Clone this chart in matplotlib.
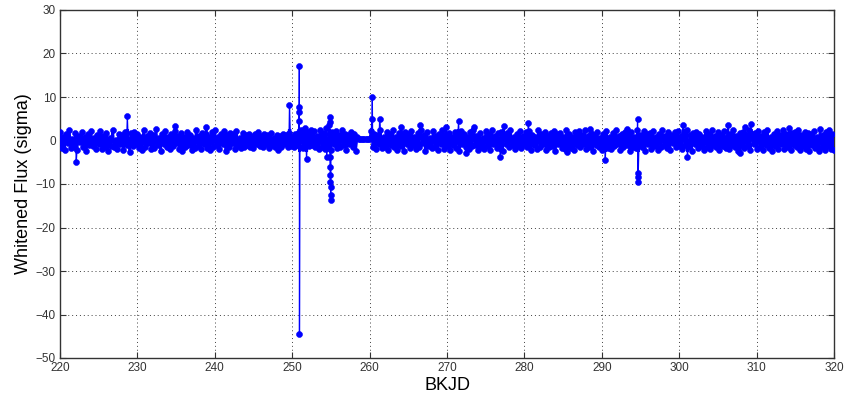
import matplotlib
matplotlib.use('Agg')
import matplotlib.pyplot as plt
from matplotlib.patches import Rectangle
import numpy as np

plt.rcParams['font.family'] = ['Liberation Sans', 'DejaVu Sans']

# whitened flux, cadence 0.2 d, before the gap (starts at BKJD 220.0)
flux_a = [
    1.9, -1.7, 0.8, -2.2, 1.5, -0.6, 2.4, -1.8, 0.3, -1.4, 1.7, -2.1, 1.0, -0.4, 2.0, -1.6, 0.9, -2.4, 1.4, -1.1, 2.2, -1.3, 0.5, -1.9,
    1.2, -0.8, 2.1, -1.9, 1.1, -1.6, 1.8, -2.3, 0.6, -1.2, 2.5, -1.5, 0.2, -2.0, 1.6, -0.7, 1.3, -2.2, 1.9, -1.0, 0.4, -2.6, 1.7, -1.3,
    2.0, -0.9, 1.4, -1.8, 0.7, -2.1, 2.3, -1.4, 1.0, -0.5, 1.8, -2.0, 1.2, -1.7, 2.6, -1.1, 0.6, -2.3, 1.5, -0.8, 2.1, -1.6, 0.9, -2.0,
    1.6, -1.2, 2.2, -0.6, 1.1, -1.9, 1.7, -2.4, 0.8, -1.5, 2.0, -1.0, 1.3, -2.2, 0.5, -1.7, 2.4, -1.3, 1.0, -2.0, 1.8, -0.7, 1.5, -1.8,
    0.9, -2.1, 1.9, -1.4, 2.3, -1.1, 0.7, -1.9, 1.6, -0.9, 2.2, -2.3, 1.2, -1.5, 1.8, -0.6, 1.4, -2.0, 2.1, -1.2, 0.6, -1.8, 1.7, -1.6,
    1.3, -1.0, 1.6, -1.5, 0.8, -1.7, 1.4, -0.9, 1.9, -1.3, 1.0, -1.6, 1.5, -0.7, 1.2, -1.8, 1.7, -1.1, 0.6, -1.5, 1.3, -2.2, 1.1, -1.4,
    1.6, -0.8, 1.2, -1.6, 1.8, -1.2, 0.9, -1.5, 1.4, -1.0, 1.7, -1.4, 2.4, -1.7, 2.8, -0.9, 1.9, -1.3, 2.3, -1.1, 2.2, -1.6, 1.0, -1.9,
    2.4, -1.5, 1.7, -2.0, 2.8, -1.2, 1.5, -2.2, 1.9, -0.9, 2.1, -1.8, 1.3, -1.4, 2.3, -1.1, 1.6, -2.1, 1.2, -0.8, 2.0, -1.6, 1.4, -2.3,
    0.8,
]

# data gap, flat at ~0
flux_gap = [0.3, 0.3, 0.3, 0.3, 0.3, 0.3, 0.3, 0.3]

# after the gap (starts at BKJD 260.2)
flux_b = [
    2.1, -1.4, 1.6, -2.0, 1.2, -0.7, 2.3, -1.8, 0.9, -1.5, 1.9, -2.2, 1.4, -1.0, 2.5, -1.6, 0.7, -2.1, 1.8, -1.2, 1.1, -2.4, 2.0, -0.9, 1.5,
    -1.7, 2.2, -1.1, 0.8, -2.0, 1.7, -1.5, 2.4, -0.6, 1.3, -2.3, 1.9, -1.2, 0.6, -1.8, 2.1, -1.4, 1.0, -2.1, 1.6, -0.8, 2.3, -1.9, 1.2, -1.3,
    1.8, -2.2, 0.9, -1.1, 2.0, -1.7, 1.4, -2.5, 2.2, -0.9, 1.5, -1.6, 0.8, -2.0, 1.9, -1.3, 2.4, -1.0, 1.1, -2.2, 1.7, -1.5, 0.6, -1.9, 2.1,
    -1.2, 1.4, -2.1, 2.3, -0.8, 1.0, -1.8, 1.7, -1.4, 2.0, -2.3, 1.2, -0.7, 1.8, -1.6, 2.5, -1.1, 0.9, -2.0, 1.5, -1.3, 2.2, -1.8, 1.1, -0.9,
    1.9, -1.6, 2.1, -2.2, 1.3, -1.0, 0.7, -1.9, 2.4, -1.4, 1.6, -0.8, 2.0, -2.1, 1.0, -1.5, 1.8, -1.2, 2.2, -2.4, 1.4, -0.9, 1.7, -1.7, 0.8,
    -2.0, 2.3, -1.3, 1.5, -1.8, 0.9, -2.2, 1.9, -1.1, 2.1, -1.6, 1.2, -0.7, 2.4, -1.9, 1.0, -1.4, 1.7, -2.3, 1.3, -1.0, 2.0, -1.5, 0.6, -2.1,
    1.6, -1.2, 2.2, -1.7, 0.9, -2.0, 1.8, -1.3, 2.5, -0.8, 1.1, -2.2, 1.5, -1.6, 2.0, -1.0, 1.3, -2.4, 1.9, -1.4, 0.7, -1.8, 2.3, -1.1, 1.2,
    -1.5, 2.1, -2.3, 1.4, -0.9, 1.7, -1.9, 2.2, -1.2, 0.8, -2.1, 1.6, -1.4, 2.4, -1.0, 1.1, -1.7, 2.0, -2.2, 1.3, -0.6, 1.9, -1.6, 2.2, -1.3,
    1.0, -2.0, 1.8, -1.1, 2.3, -1.5, 1.2, -2.3, 1.7, -0.7, 2.0, -1.8, 1.4, -1.2, 0.9, -2.1, 2.2, -1.4, 1.5, -1.9, 2.4, -1.0, 1.1, -1.6, 1.9,
    -2.2, 1.3, -1.3, 2.1, -1.8, 0.8, -2.0, 1.6, -1.1, 2.3, -1.5, 1.0, -2.4, 1.8, -0.9, 2.0, -1.7, 1.2, -1.3, 2.5, -2.1, 1.4, -0.8, 1.7, -1.9,
    2.2, -1.4, 1.1, -2.1, 1.9, -1.0, 2.4, -1.7, 0.9, -2.3, 1.6, -1.2, 2.1, -1.9, 1.3, -0.8, 2.3, -2.0, 1.5, -1.5, 1.0, -2.2, 1.8, -1.1, 2.0,
    -1.6, 2.5, -2.2, 1.2, -1.3, 2.0, -1.9, 1.7, -2.4, 1.4, -1.0, 2.2, -1.8, 0.9, -2.3, 2.6, -1.5, 1.3, -2.1, 1.9, -1.2, 2.3, -2.0, 1.6, -2.2,
]

# outliers
spike_t = [222.1, 228.7, 234.9, 238.9, 249.65, 250.86, 250.88, 250.90, 250.92, 250.94, 251.85,
           254.45, 254.81, 254.83, 254.85, 254.87, 254.89, 254.91, 254.93, 254.95, 254.97, 254.99,
           260.32, 260.35, 261.3, 264.05, 266.5, 269.85, 271.5, 272.5, 273.45, 276.9, 277.3, 280.5,
           285.5, 288.5, 290.45, 293.3, 294.62, 294.64, 294.66, 294.68, 300.5, 301.05, 306.3,
           307.85, 308.5, 309.25, 314.25]
spike_f = [-4.9, 5.6, 3.3, 3.2, 8.1, 4.5, 6.6, 7.8, 17.1, -44.5, -4.2,
           -3.7, 3.6, 4.3, 5.3, -3.7, -6.2, -7.9, -9.5, -10.8, -12.5, -13.7,
           4.9, 9.9, 4.9, 3.2, 3.6, 3.2, 4.4, -2.8, 3.2, -3.7, 3.4, 4.1,
           -2.7, 2.7, -4.5, 2.6, 4.9, -7.4, -8.5, -9.5, 3.6, -3.7, 3.6,
           -2.8, 3.2, 3.7, 2.9]

cadence = 0.2
t_a = 220.0 + cadence * np.arange(len(flux_a))
t_gap = t_a[-1] + cadence * np.arange(1, len(flux_gap) + 1)
t_b = 260.2 + cadence * np.arange(len(flux_b))

t = np.concatenate([t_a, t_gap, t_b, spike_t])
f = np.concatenate([flux_a, flux_gap, flux_b, spike_f])
order = np.argsort(t, kind='stable')
t = t[order]
f = f[order]

fig = plt.figure(figsize=(8.49, 4.07), dpi=100)
ax = fig.add_axes([60 / 849, 1 - 358 / 407, 774 / 849, 348 / 407])

# thin line for the whole series, heavier inside the noise band so it reads solid
ax.plot(t, f, '-', color='b', lw=0.9, zorder=3)
band, = ax.plot(t, f, '-', color='b', lw=1.8, zorder=3)
band.set_clip_path(Rectangle((220, -2.6), 100, 5.2, transform=ax.transData))
ax.plot(t, f, 'o', color='b', ms=4.3, mew=0.4, zorder=3)

ax.set_xlim(220, 320)
ax.set_ylim(-50, 30)
ax.set_xticks(np.arange(220, 321, 10))
ax.set_yticks(np.arange(-50, 31, 10))
ax.grid(True, color='#404040', linestyle=(0, (1, 3)), lw=0.7)
ax.tick_params(direction='in', length=4, width=0.8, top=True, right=True,
               labelsize=8.5, labelcolor='#333333', color='#333333', pad=3)
for sp in ax.spines.values():
    sp.set_color('#333333')
    sp.set_linewidth(1.0)

ax.set_xlabel('BKJD', fontsize=13, labelpad=2)
ax.set_ylabel('Whitened Flux (sigma)', fontsize=13, labelpad=3)

fig.savefig('out.png', dpi=100)
